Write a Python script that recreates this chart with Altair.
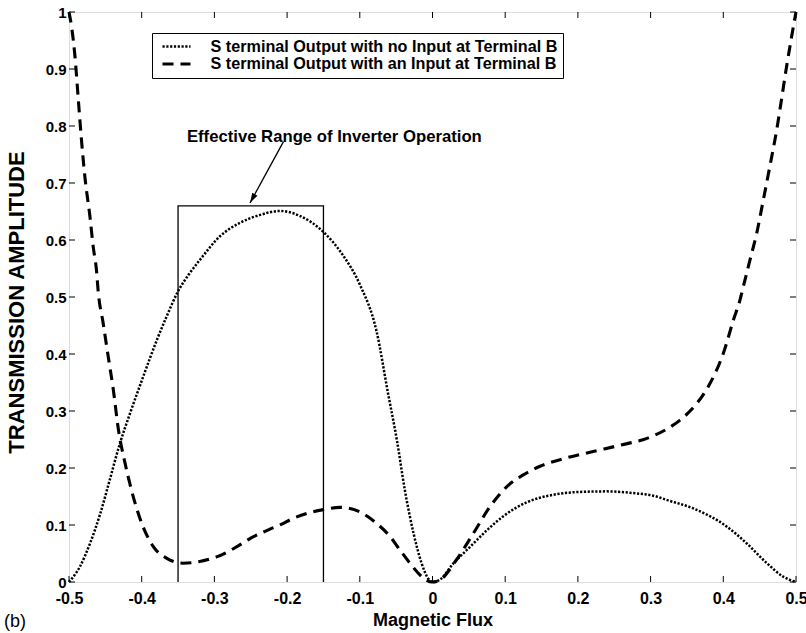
import altair as alt
import pandas as pd

FONT = "Liberation Sans, Arial, Helvetica, sans-serif"

NO_INPUT = "S terminal Output with no Input at Terminal B"
WITH_INPUT = "S terminal Output with an Input at Terminal B"

# S-terminal transmission with no input at terminal B (dotted curve)
flux_no_input = [-0.5, -0.485, -0.471, -0.457, -0.444, -0.43, -0.416, -0.398, -0.379,
                 -0.366, -0.35, -0.335, -0.32, -0.292, -0.265, -0.237, -0.21, -0.182, -0.15,
                 -0.123, -0.1, -0.077, -0.061, -0.049, -0.038, -0.026, -0.015, -0.006,
                 0.0, 0.01, 0.029, 0.052, 0.075, 0.097, 0.13, 0.166, 0.203, 0.24,
                 0.276, 0.308, 0.322, 0.359, 0.405, 0.432, 0.46, 0.483, 0.5]
amp_no_input = [0.0, 0.027, 0.068, 0.12, 0.179, 0.243, 0.296, 0.36, 0.425,
                0.465, 0.51, 0.54, 0.565, 0.607, 0.63, 0.644, 0.651, 0.642, 0.614,
                0.573, 0.522, 0.44, 0.33, 0.249, 0.161, 0.085, 0.033, 0.006,
                0.0, 0.004, 0.033, 0.062, 0.091, 0.115, 0.14, 0.153, 0.158, 0.159,
                0.156, 0.15, 0.144, 0.129, 0.097, 0.068, 0.033, 0.009, 0.0]

# S-terminal transmission with an input at terminal B (dashed curve)
flux_with_input = [-0.5, -0.496, -0.492, -0.487, -0.483, -0.478, -0.471, -0.467, -0.462,
                   -0.46, -0.453, -0.446, -0.439, -0.432, -0.423, -0.414, -0.4, -0.384,
                   -0.366, -0.343, -0.32, -0.297, -0.269, -0.25, -0.225, -0.205, -0.196,
                   -0.168, -0.15, -0.127, -0.1, -0.077, -0.0585, -0.0447, -0.031, -0.017,
                   -0.008, 0.0, 0.01, 0.033, 0.056, 0.079, 0.102, 0.125, 0.148, 0.185,
                   0.221, 0.258, 0.295, 0.322, 0.3405, 0.3634, 0.382, 0.4, 0.414, 0.423,
                   0.4275, 0.4367, 0.446, 0.455, 0.464, 0.4734, 0.48, 0.487, 0.494, 0.5]
amp_with_input = [1.0, 0.97, 0.925, 0.843, 0.778, 0.709, 0.639, 0.591, 0.544,
                  0.512, 0.454, 0.395, 0.337, 0.267, 0.209, 0.161, 0.103, 0.062,
                  0.042, 0.033, 0.036, 0.044, 0.062, 0.077, 0.092, 0.103, 0.109,
                  0.122, 0.127, 0.131, 0.123, 0.103, 0.08, 0.056, 0.033, 0.012,
                  0.003, 0.0, 0.0035, 0.039, 0.085, 0.132, 0.167, 0.188, 0.203, 0.218,
                  0.229, 0.24, 0.252, 0.268, 0.284, 0.313, 0.349, 0.401, 0.46, 0.495,
                  0.518, 0.565, 0.612, 0.67, 0.729, 0.793, 0.846, 0.904, 0.957, 1.0]

x_ticks = [-0.5, -0.4, -0.3, -0.2, -0.1, 0.0, 0.1, 0.2, 0.3, 0.4, 0.5]
y_ticks = [0.0, 0.1, 0.2, 0.3, 0.4, 0.5, 0.6, 0.7, 0.8, 0.9, 1.0]

# Bracket marking the effective range of inverter operation
box_flux = [-0.35, -0.35, -0.15, -0.15]
box_amp = [0.0, 0.66, 0.66, 0.0]

# Annotation arrow (tail -> head)
arrow_flux = [-0.205, -0.251]
arrow_amp = [0.7725, 0.665]
note_text = "Effective Range of Inverter Operation"
note_flux = -0.135
note_amp = 0.772

curves = pd.concat([
    pd.DataFrame({"flux": flux_no_input, "amp": amp_no_input, "series": NO_INPUT}),
    pd.DataFrame({"flux": flux_with_input, "amp": amp_with_input, "series": WITH_INPUT}),
], ignore_index=True)

W, H = 727, 570

x_scale = alt.Scale(domain=[-0.5, 0.5], nice=False, zero=False)
y_scale = alt.Scale(domain=[0, 1], nice=False, zero=True)

label_expr = "datum.value == 0 ? '0' : toString(round(datum.value * 10) / 10)"

x_enc = alt.X(
    "flux:Q", scale=x_scale,
    axis=alt.Axis(
        values=x_ticks, title="Magnetic Flux", labelExpr=label_expr,
        domain=False, ticks=False, grid=False,
        labelFont=FONT, labelFontSize=16, labelFontWeight="bold", labelColor="black",
        labelPadding=8, labelFlush=False, labelOverlap=False,
        titleFont=FONT, titleFontSize=18, titleFontWeight="bold", titleColor="black",
        titleBaseline="alphabetic", titleY=43, titleX=W / 2,
    ),
)
y_enc = alt.Y(
    "amp:Q", scale=y_scale,
    axis=alt.Axis(
        values=y_ticks, title="TRANSMISSION AMPLITUDE", labelExpr=label_expr,
        domain=False, ticks=False, grid=False,
        labelFont=FONT, labelFontSize=15, labelFontWeight="bold", labelColor="black",
        labelPadding=3, labelFlush=False, labelOverlap=False,
        titleFont=FONT, titleFontSize=22, titleFontWeight="bold", titleColor="black",
        titleAngle=270, titleAlign="center", titleBaseline="middle",
        titleX=-53, titleY=290,
    ),
)

# One shared legend for dash pattern and line weight
legend_style = dict(
    title=None, orient="none", legendX=83, legendY=21, direction="vertical",
    strokeColor="black", fillColor="white", padding=5, rowPadding=0,
    labelFont=FONT, labelFontSize=16.2, labelFontWeight="bold", labelColor="black",
    labelLimit=600, labelOffset=25,
    symbolType="M-2,0L2,0", symbolSize=196, symbolOffset=10.5,
    symbolStrokeColor="black", symbolFillColor="transparent",
)

lines = alt.Chart(curves).mark_line(
    color="black", interpolate="monotone", strokeCap="butt"
).encode(
    x=x_enc,
    y=y_enc,
    strokeDash=alt.StrokeDash(
        "series:N",
        scale=alt.Scale(domain=[NO_INPUT, WITH_INPUT], range=[[2.2, 1.6], [11, 7]]),
        legend=alt.Legend(**legend_style),
    ),
    strokeWidth=alt.StrokeWidth(
        "series:N",
        scale=alt.Scale(domain=[NO_INPUT, WITH_INPUT], range=[2.5, 3.1]),
        legend=alt.Legend(**legend_style),
    ),
)

box = alt.Chart(pd.DataFrame({"flux": box_flux, "amp": box_amp, "k": range(4)})).mark_line(
    color="black", strokeWidth=1.3
).encode(x="flux:Q", y="amp:Q", order="k:Q")

arrow_df = pd.DataFrame({"flux": arrow_flux, "amp": arrow_amp, "k": [0, 1]})
arrow_shaft = alt.Chart(arrow_df).mark_line(color="black", strokeWidth=1.3).encode(
    x="flux:Q", y="amp:Q", order="k:Q"
)
arrow_head = alt.Chart(arrow_df.iloc[[1]]).mark_point(
    shape="M0,0L0.6,2L-0.6,2Z", filled=True, color="black", opacity=1, size=100, angle=209
).encode(x="flux:Q", y="amp:Q")

note = alt.Chart(pd.DataFrame({"flux": [note_flux], "amp": [note_amp], "t": [note_text]})).mark_text(
    font=FONT, fontSize=16.7, fontWeight="bold", color="black", align="center", baseline="alphabetic"
).encode(x="flux:Q", y="amp:Q", text="t:N")

tick_len = 6
xt = pd.DataFrame({"flux": x_ticks})
yt = pd.DataFrame({"amp": y_ticks})
ticks_bottom = alt.Chart(xt).mark_rule(color="black", strokeWidth=1).encode(
    x="flux:Q", y=alt.value(H), y2=alt.value(H - tick_len))
ticks_top = alt.Chart(xt).mark_rule(color="black", strokeWidth=1).encode(
    x="flux:Q", y=alt.value(0), y2=alt.value(tick_len))
ticks_left = alt.Chart(yt).mark_rule(color="black", strokeWidth=1).encode(
    y="amp:Q", x=alt.value(0), x2=alt.value(tick_len))
ticks_right = alt.Chart(yt).mark_rule(color="black", strokeWidth=1).encode(
    y="amp:Q", x=alt.value(W), x2=alt.value(W - tick_len))

panel_tag = alt.Chart(pd.DataFrame({"t": ["(b)"]})).mark_text(
    font=FONT, fontSize=18, color="black", align="left", baseline="alphabetic"
).encode(x=alt.value(-65), y=alt.value(H + 45), text="t:N")

chart = alt.layer(
    lines, box, arrow_shaft, arrow_head, note,
    ticks_bottom, ticks_top, ticks_left, ticks_right, panel_tag,
).properties(
    width=W, height=H,
    autosize="none",
    padding={"left": 69, "top": 12, "right": 10, "bottom": 51},
).configure_view(
    stroke="black", strokeWidth=1.2, fill="white"
).configure(background="white")

chart.save("out.html", embed_options={"renderer": "svg", "actions": False})
